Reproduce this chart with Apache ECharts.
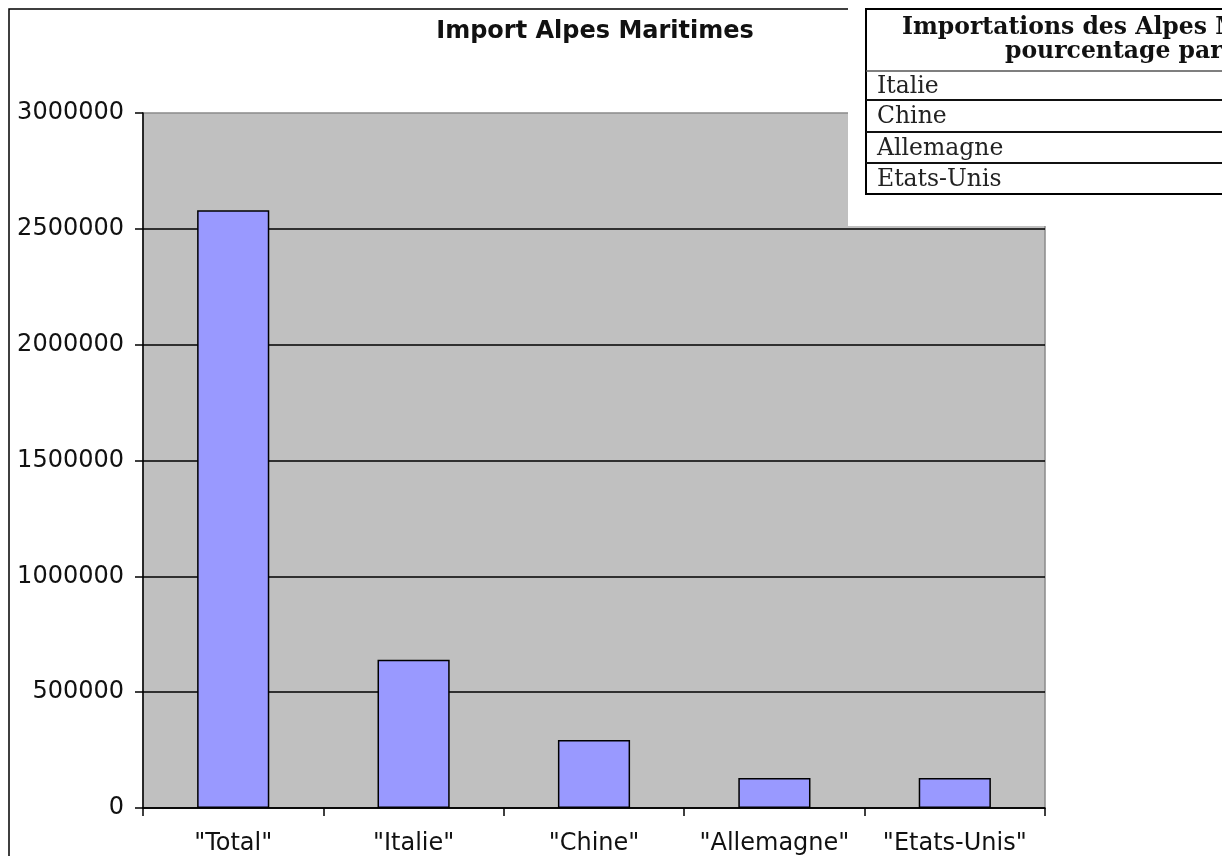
<!DOCTYPE html>
<html>
<head>
<meta charset="utf-8">
<script src="https://cdn.jsdelivr.net/npm/echarts@6/dist/echarts.min.js"></script>
<style>
html,body{margin:0;padding:0;background:#fff;}
#chart{width:1222px;height:856px;}
</style>
</head>
<body>
<div id="chart"></div>
<script>
const chartTitle = 'Import Alpes Maritimes';
const categories = ['"Total"', '"Italie"', '"Chine"', '"Allemagne"', '"Etats-Unis"'];
const importValues = [2580000, 640000, 293000, 130000, 130000];
const tableTitleLines = ['Importations des Alpes Maritimes en', 'pourcentage par pays'];
const tableRows = ['Italie', 'Chine', 'Allemagne', 'Etats-Unis'];

const chart = echarts.init(document.getElementById('chart'), null, {renderer: 'canvas'});

const rowTops = [71, 100, 132, 163, 194];
const graphics = [
  {type: 'rect', z: 0, silent: true, shape: {x: 9, y: 9, width: 1400, height: 1000},
   style: {fill: 'none', stroke: '#000', lineWidth: 1.5}},
  {type: 'rect', z: 100, silent: true, shape: {x: 848, y: 0, width: 400, height: 226},
   style: {fill: '#fff'}},
  {type: 'rect', z: 101, silent: true, shape: {x: 866, y: 9, width: 420, height: 185},
   style: {fill: '#fff', stroke: '#000', lineWidth: 2}},
  {type: 'line', z: 102, silent: true, shape: {x1: 866, y1: 71, x2: 1300, y2: 71},
   style: {stroke: '#555', lineWidth: 1.5}}
];
[100, 132, 163].forEach(y => graphics.push({type: 'line', z: 102, silent: true,
  shape: {x1: 866, y1: y, x2: 1300, y2: y}, style: {stroke: '#111', lineWidth: 2}}));
tableTitleLines.forEach((t, i) => graphics.push({type: 'text', z: 103, silent: true,
  x: [902, 1005][i], y: [28, 52][i],
  style: {text: t, fill: '#111', font: 'bold 23.5px "DejaVu Serif"', textVerticalAlign: 'middle'}}));
tableRows.forEach((t, i) => graphics.push({type: 'text', z: 103, silent: true,
  x: 877, y: (rowTops[i] + rowTops[i + 1]) / 2 + 1,
  style: {text: t, fill: '#222', font: '23.5px "DejaVu Serif"', textVerticalAlign: 'middle'}}));

chart.setOption({
  backgroundColor: '#fff',
  animation: false,
  title: {
    text: chartTitle, left: 590, top: 15, textAlign: 'center',
    textStyle: {fontFamily: 'DejaVu Sans', fontWeight: 'bold', fontSize: 24, color: '#111'}
  },
  grid: {
    left: 143, top: 113, right: 177, bottom: 48,
    show: true, backgroundColor: '#C0C0C0', borderColor: '#8a8a8a', borderWidth: 1.5
  },
  xAxis: {
    type: 'category', data: categories, boundaryGap: true,
    axisLine: {lineStyle: {color: '#000', width: 1.5}},
    axisTick: {show: true, length: 8, alignWithLabel: false, lineStyle: {color: '#000', width: 1.5}},
    axisLabel: {margin: 24, color: '#111', fontFamily: 'DejaVu Sans', fontSize: 24, interval: 0}
  },
  yAxis: {
    type: 'value', min: 0, max: 3000000, interval: 500000,
    axisLine: {show: true, lineStyle: {color: '#000', width: 1.5}},
    axisTick: {show: true, length: 8, lineStyle: {color: '#000', width: 1.5}},
    axisLabel: {margin: 19, color: '#111', fontFamily: 'DejaVu Sans', fontSize: 24,
      formatter: v => String(v)},
    splitLine: {show: true, showMaxLine: false, lineStyle: {color: '#000', width: 1.5}}
  },
  series: [{
    type: 'bar', data: importValues, barWidth: '40%',
    itemStyle: {color: '#9999FF', borderColor: '#000', borderWidth: 1.5}
  }],
  graphic: graphics
});
</script>
</body>
</html>
